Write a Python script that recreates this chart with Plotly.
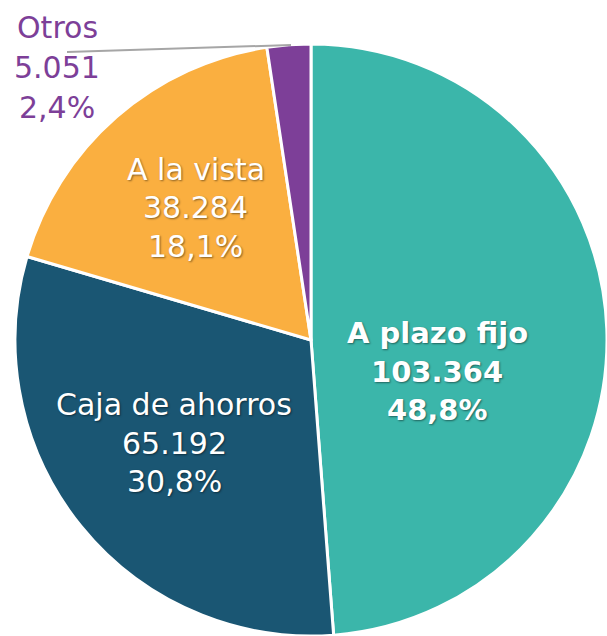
import plotly.graph_objects as go

labels = ["A plazo fijo", "Caja de ahorros", "A la vista", "Otros"]
values = [103364, 65192, 38284, 5051]
percents = ["48,8%", "30,8%", "18,1%", "2,4%"]
colors = ["#3BB6AA", "#1A5673", "#FAAF40", "#7D3F98"]

W, H = 607, 636

fig = go.Figure(go.Pie(
    labels=labels, values=values, sort=False, direction="clockwise", rotation=0,
    marker=dict(colors=colors, line=dict(color="white", width=3)),
    textinfo="none", hoverinfo="none", showlegend=False,
    domain=dict(x=[15 / W, 1], y=[0, 1 - 44 / H]),
))

def fmt(v):
    return f"{v:,}".replace(",", ".")

# label placement (pixel centres of each of the three lines)
spots = {
    "A plazo fijo": (437, [333, 372, 410], "white", True, 29),
    "Caja de ahorros": (174, [404, 443, 481], "white", False, 30),
    "A la vista": (196, [169, 207, 246], "white", False, 30),
    "Otros": (57, [28, 68, 107], "#7D3F98", False, 30),
}
shadow = "1px 1px 2px rgba(0,0,0,0.45)"
for lab, val, pct in zip(labels, values, percents):
    cx, ys, col, bold, fs = spots[lab]
    for txt, py in zip([lab, fmt(val), pct], ys):
        fig.add_annotation(
            x=cx / W, y=1 - py / H, xref="paper", yref="paper",
            text=f"<b>{txt}</b>" if bold else txt, showarrow=False,
            xanchor="center", yanchor="middle",
            font=dict(family="DejaVu Sans", size=fs, color=col,
                      shadow=shadow if col == "white" else "none"),
        )

# leader line for Otros
fig.add_shape(type="line", xref="paper", yref="paper",
              x0=67 / W, y0=1 - 52 / H, x1=291 / W, y1=1 - 45 / H,
              line=dict(color="#A6A6A6", width=2))

fig.update_layout(width=W, height=H, margin=dict(l=0, r=0, t=0, b=0),
                  paper_bgcolor="white", plot_bgcolor="white")
fig.write_html("out.html", config={"displayModeBar": False},
               post_script="document.body.style.margin='0';document.body.style.overflow='hidden';")
